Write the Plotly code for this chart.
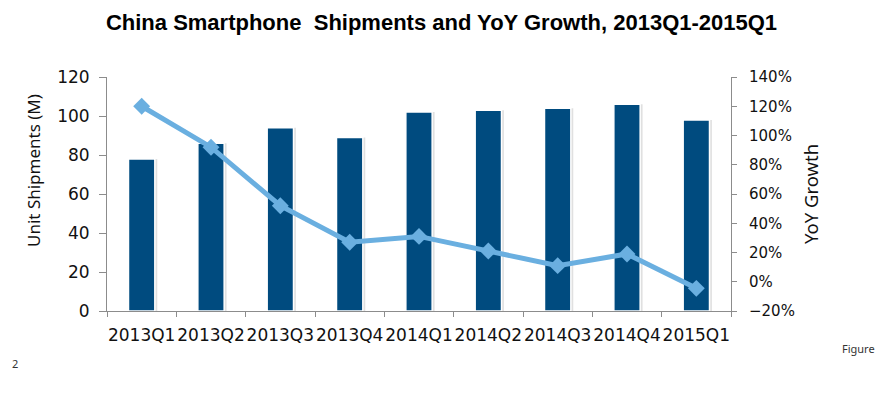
import plotly.graph_objects as go

quarters = ["2013Q1", "2013Q2", "2013Q3", "2013Q4", "2014Q1", "2014Q2", "2014Q3", "2014Q4", "2015Q1"]
shipments = [78, 86, 94, 89, 102, 103, 104, 106, 98]
yoy_growth = [1.20, 0.92, 0.52, 0.27, 0.31, 0.21, 0.11, 0.19, -0.045]
left_ticks = [0, 20, 40, 60, 80, 100, 120]
grid_ticks = [20, 40, 60, 80, 100]
right_ticks = [-0.2, 0, 0.2, 0.4, 0.6, 0.8, 1.0, 1.2, 1.4]

TICK_FONT = dict(family="DejaVu Sans, Verdana, sans-serif", size=17, color="#111")
TITLE_FONT = "Noto Sans, Open Sans, sans-serif"
AXIS_COLOR = "#8c8c8c"

# page body has an 8px margin; plot area target: x 107..731, y 77..311 on the page
fig = go.Figure()

# soft shadow of bars
fig.add_trace(go.Bar(
    x=quarters, y=shipments, width=0.38, offset=-0.155,
    marker=dict(color="rgba(0,0,0,0.12)", line=dict(width=0)),
    hoverinfo="skip", showlegend=False, yaxis="y"))

fig.add_trace(go.Bar(
    x=quarters, y=shipments, width=0.38, offset=-0.19,
    marker=dict(color="#004b7f", line=dict(color="white", width=1.5)),
    name="Unit Shipments", showlegend=False, yaxis="y"))

fig.add_trace(go.Scatter(
    x=quarters, y=yoy_growth, mode="lines+markers",
    line=dict(color="#6aafe0", width=5),
    marker=dict(symbol="diamond", size=13, color="#6aafe0"),
    name="YoY Growth", showlegend=False, yaxis="y2"))

fig.update_layout(
    width=889, height=393,
    margin=dict(l=99, r=166, t=69, b=90),
    paper_bgcolor="white", plot_bgcolor="white",
    barmode="overlay",
    title=dict(text="<b>China Smartphone&nbsp; Shipments and YoY Growth, 2013Q1-2015Q1</b>",
               x=(441.5 - 8) / 889, xanchor="center", y=1 - 14 / 393, yanchor="middle",
               font=dict(family="Liberation Sans, Arial, sans-serif", size=22, color="#000")),
    xaxis=dict(type="category", categoryorder="array", categoryarray=quarters,
               tickson="boundaries", ticks="outside", ticklen=5, tickcolor=AXIS_COLOR,
               showline=True, linecolor=AXIS_COLOR, linewidth=1, ticklabelstandoff=9,
               tickangle=0,
               showgrid=False, tickfont=TICK_FONT, range=[-0.5, 8.5]),
    yaxis=dict(range=[0, 120], tickvals=left_ticks, ticks="outside", ticklen=7,
               tickcolor=AXIS_COLOR, showline=True, linecolor=AXIS_COLOR,
               ticklabelstandoff=6,
               showgrid=False, zeroline=False, tickfont=TICK_FONT),
    yaxis3=dict(range=[0, 120], tickvals=grid_ticks, overlaying="y", showgrid=True,
                gridcolor="#a0a0a0", gridwidth=1, showticklabels=False,
                zeroline=False, layer="below traces"),
    yaxis2=dict(range=[-0.2, 1.4], tickvals=right_ticks, tickformat=".0%",
                overlaying="y", side="right", ticks="outside", ticklen=5,
                tickcolor=AXIS_COLOR, showline=True, linecolor=AXIS_COLOR,
                ticklabelstandoff=9,
                showgrid=False, zeroline=False,
                tickfont=dict(family="DejaVu Sans, Verdana, sans-serif", size=15, color="#111")),
    annotations=[
        dict(text="Unit Shipments (M)", xref="paper", yref="paper",
             x=(33 - 107) / 624, y=(311 - 171) / 234, xanchor="center", yanchor="middle",
             textangle=-90, showarrow=False,
             font=dict(family=TITLE_FONT, size=17, color="#111")),
        dict(text="YoY Growth", xref="paper", yref="paper",
             x=(810 - 107) / 624, y=(311 - 194) / 234, xanchor="center", yanchor="middle",
             textangle=-90, showarrow=False,
             font=dict(family=TITLE_FONT, size=18.5, color="#111")),
        dict(text="Figure", xref="paper", yref="paper",
             x=(858 - 107) / 624, y=(311 - 348) / 234, xanchor="center", yanchor="middle",
             showarrow=False,
             font=dict(family=TITLE_FONT, size=11, color="#333")),
        dict(text="2", xref="paper", yref="paper",
             x=(10 - 107) / 624, y=(311 - 363) / 234, xanchor="left", yanchor="middle",
             showarrow=False,
             font=dict(family=TITLE_FONT, size=11, color="#333")),
    ],
)

fig.write_html("out.html")
